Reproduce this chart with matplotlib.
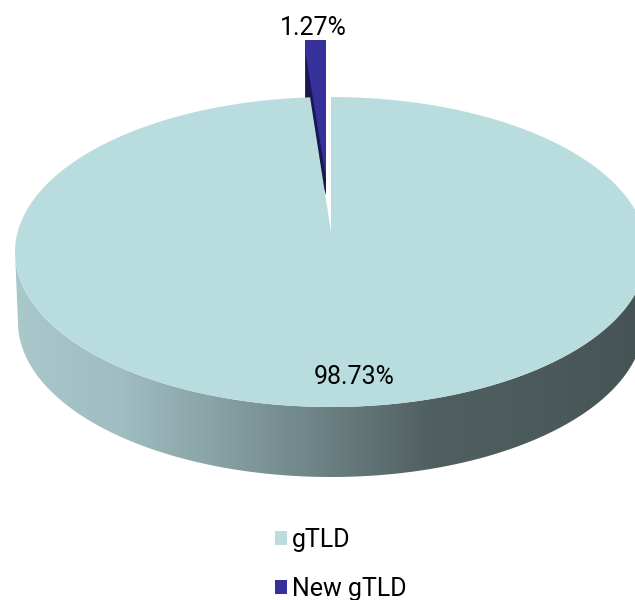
import numpy as np
import matplotlib
matplotlib.use('Agg')
import matplotlib.pyplot as plt
from matplotlib.colors import LinearSegmentedColormap
from matplotlib.patches import Polygon, Patch

categories = ['gTLD', 'New gTLD']
shares = [98.73, 1.27]
value_labels = ['98.73%', '1.27%']
pie_colors = ['#B9DDDF', '#35309A']
dark_side = '#1B1850'
wall_colors = ['#A9C8CC', '#A0BDC1', '#859FA2', '#6A7F81', '#4F5E5F', '#4B5A5B', '#465354']

plt.rcParams['font.family'] = ['Roboto', 'DejaVu Sans']

fig = plt.figure(figsize=(6.35, 6.0), dpi=100)
ax = fig.add_axes([0, 0, 1, 1])
ax.set_xlim(0, 635)
ax.set_ylim(600, 0)
ax.axis('off')

cx, cy, rx, ry = 331, 252, 316, 155
apex_y = 232
foreshorten = 0.83
depth = 70
phi = np.radians(shares[1] * 3.6 * foreshorten)

# side wall
tb = np.linspace(np.pi / 2, 3 * np.pi / 2, 300)
bx, by = cx + (rx - 3) * np.sin(tb), cy + depth - ry * np.cos(tb)
tt = tb[::-1]
ux, uy = cx + rx * np.sin(tt), cy - ry * np.cos(tt)
wall = Polygon(np.column_stack([np.r_[bx, ux], np.r_[by, uy]]), closed=True,
               transform=ax.transData, facecolor='none', edgecolor='none')
ax.add_patch(wall)
cmap = LinearSegmentedColormap.from_list('wall', wall_colors)
im = ax.imshow(np.linspace(0, 1, 256)[None, :], cmap=cmap, extent=(15, 647, 600, 0),
               aspect='auto', zorder=1, interpolation='bilinear')
im.set_clip_path(wall)
ax.set_xlim(0, 635)
ax.set_ylim(600, 0)

# exploded slice
slice_dx, slice_top, slice_apex = -5, 40, 195
sx = cx + slice_dx
w = rx * np.sin(phi)
ax.add_patch(Polygon([(sx - w, slice_top), (sx, slice_top), (sx, slice_apex), (sx - w, 130)],
                     closed=True, facecolor=dark_side, edgecolor='none', zorder=2))
ax.add_patch(Polygon([(sx - w, slice_top), (sx, slice_top), (sx, slice_apex - 17),
                      (sx - w, slice_top + 10)], closed=True,
                     facecolor=pie_colors[1], edgecolor='none', zorder=3))

# main slice
ta = np.linspace(0, 2 * np.pi - phi, 500)
ax.add_patch(Polygon(np.column_stack([np.r_[cx, cx + rx * np.sin(ta)],
                                      np.r_[apex_y, cy - ry * np.cos(ta)]]),
                     closed=True, facecolor=pie_colors[0], edgecolor='none', zorder=4))

ax.text(354, 377, value_labels[0], ha='center', va='center', fontsize=18, color='black', zorder=6)
ax.text(313, 28, value_labels[1], ha='center', va='center', fontsize=18, color='black', zorder=6)

handles = [Patch(facecolor=c, edgecolor='none', label=n) for c, n in zip(pie_colors, categories)]
leg = ax.legend(handles=handles, loc='upper left', bbox_to_anchor=(275 / 635, 1 - 528 / 600),
                frameon=False, fontsize=18, handlelength=0.48, handleheight=0.48,
                handletextpad=0.2, labelspacing=1.0, borderpad=0, borderaxespad=0)

fig.savefig('out.png', dpi=100)
